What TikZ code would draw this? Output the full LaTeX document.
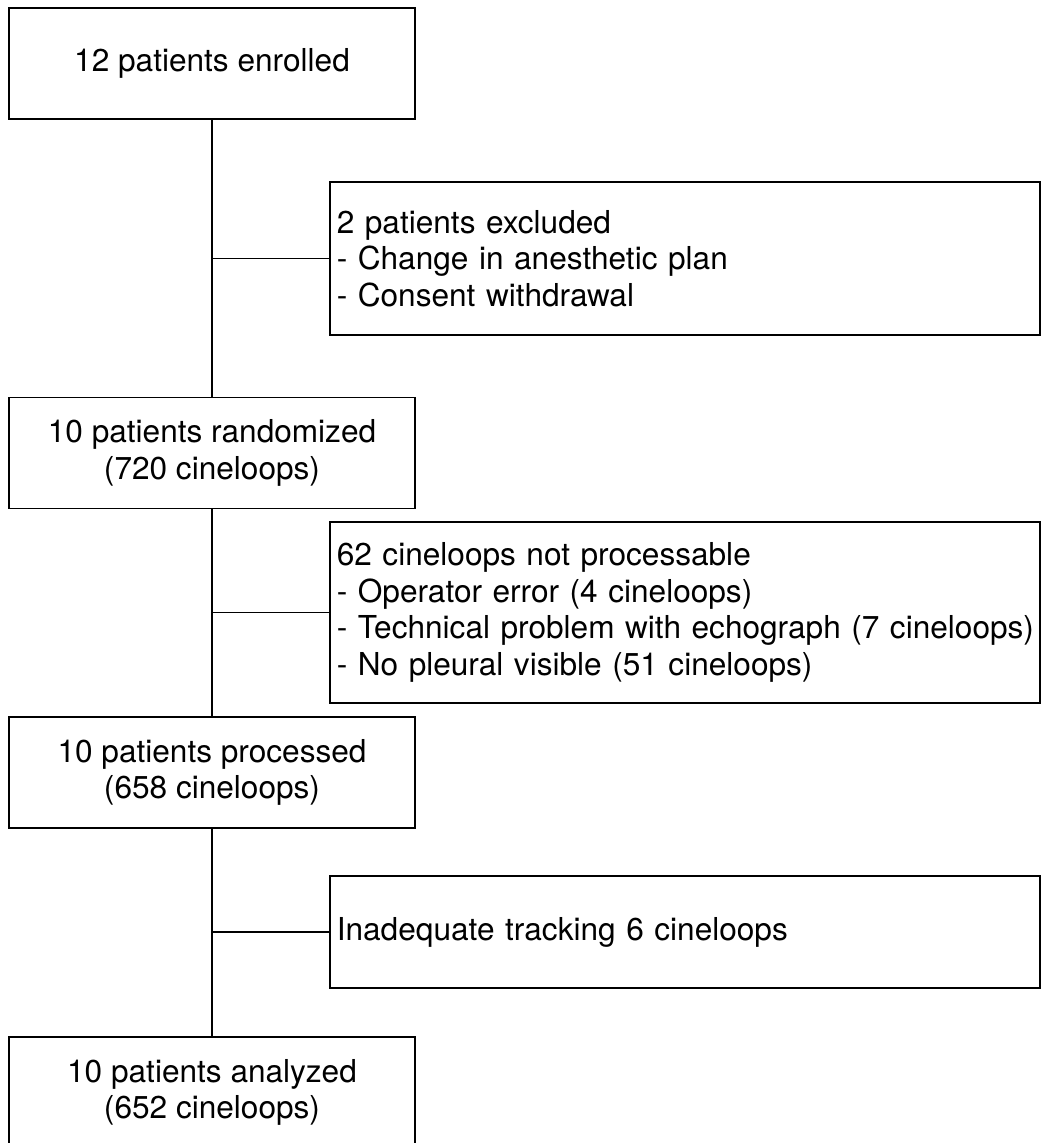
\documentclass[tikz,border=0pt]{standalone}
\usepackage{fontspec}
\setmainfont{TeX Gyre Heros}
\usepackage{tikz}

\begin{document}
\begin{tikzpicture}[x=0.75pt, y=-0.75pt, line width=1.2pt,
  font=\fontsize{23.7pt}{27.5pt}\selectfont,
  mainbox/.style={draw, align=center, minimum width=304.5pt, minimum height=83.25pt, inner sep=0pt},
  sidebox/.style={draw, anchor=west, align=left, text width=522pt, inner xsep=5.25pt, inner ysep=0pt}]
  \useasboundingbox (0,0) rectangle (1040,1143);

  \node[mainbox] (enrolled)   at (212,63.5)   {12 patients enrolled};
  \node[mainbox] (randomized) at (212,453)    {10 patients randomized\\(720 cineloops)};
  \node[mainbox] (processed)  at (212,772.5)  {10 patients processed\\(658 cineloops)};
  \node[mainbox] (analyzed)   at (212,1092.5) {10 patients analyzed\\(652 cineloops)};

  \node[sidebox, minimum height=114.75pt] (excluded)   at (329,258.5) {2 patients excluded\\- Change in anesthetic plan\\- Consent withdrawal};
  \node[sidebox, minimum height=135.75pt] (notproc)    at (329,612.5) {62 cineloops not processable\\- Operator error (4 cineloops)\\\mbox{- Technical problem with echograph (7 cineloops)}\\- No pleural visible (51 cineloops)};
  \node[sidebox, minimum height=84pt]     (inadequate) at (329,932)   {Inadequate tracking 6 cineloops};

  \path (enrolled)   edge (randomized)
        (randomized) edge (processed)
        (processed)  edge (analyzed)
        (excluded)   edge (excluded -| enrolled)
        (notproc)    edge (notproc -| randomized)
        (inadequate) edge (inadequate -| processed);
\end{tikzpicture}
\end{document}
